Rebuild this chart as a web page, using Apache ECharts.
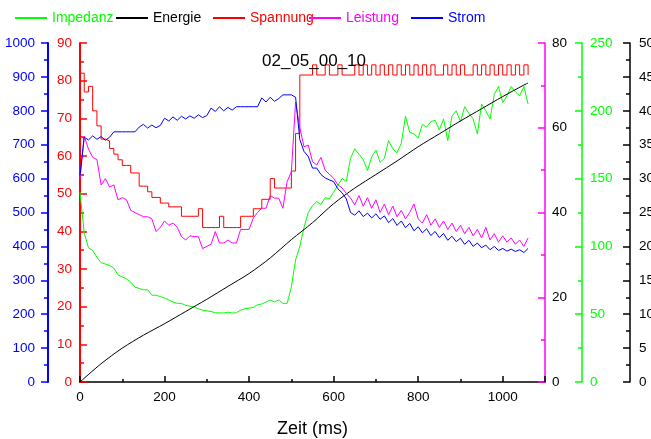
<!DOCTYPE html>
<html>
<head>
<meta charset="utf-8">
<script src="https://cdn.jsdelivr.net/npm/echarts@6/dist/echarts.min.js"></script>
<style>
  html, body { margin: 0; padding: 0; background: #fff; }
  #chart { width: 651px; height: 439px; }
</style>
</head>
<body>
<div id="chart"></div>
<script>
// Zeitachse (ms), gemeinsam fuer die Messreihen
const zeit = [
  0, 10, 20, 30, 40, 50, 60, 70, 80, 90,
  100, 110, 120, 130, 140, 150, 160, 170, 180, 190,
  200, 210, 220, 230, 240, 250, 260, 270, 280, 290,
  300, 310, 320, 330, 340, 350, 360, 370, 380, 390,
  400, 410, 420, 430, 440, 450, 460, 470, 480, 490,
  500, 510, 520, 530, 540, 550, 560, 570, 580, 590,
  600, 610, 620, 630, 640, 650, 660, 670, 680, 690,
  700, 710, 720, 730, 740, 750, 760, 770, 780, 790,
  800, 810, 820, 830, 840, 850, 860, 870, 880, 890,
  900, 910, 920, 930, 940, 950, 960, 970, 980, 990,
  1000, 1010, 1020, 1030, 1040, 1050, 1060
];

const strom = [
  610, 722, 714, 726, 716, 724, 713, 722, 738, 738,
  738, 738, 738, 738, 752, 760, 749, 758, 750, 757,
  778, 770, 782, 772, 784, 776, 785, 778, 788, 780,
  786, 808, 798, 812, 800, 810, 802, 812, 812, 812,
  812, 812, 812, 838, 826, 840, 828, 836, 847, 847,
  847, 840, 715, 680, 665, 631, 631, 612, 602, 596,
  591, 570, 558, 540, 500, 492, 505, 488, 498, 484,
  496, 480, 490, 470, 482, 462, 475, 455, 468, 446,
  458, 440, 452, 432, 444, 426, 438, 418, 430, 414,
  424, 406, 418, 400, 410, 396, 404, 390, 400, 388,
  394, 386, 392, 385, 390, 382, 394
];

const spannung = [
  82, 77, 78.5, 72, 68, 64.5, 64, 62, 60.5, 59,
  57.5, 57.5, 55.5, 55.5, 52, 52, 50.5, 49, 49, 47.5,
  47.5, 46.5, 46.5, 46.5, 44, 44, 44, 44, 46, 41,
  41, 41, 41, 44, 41, 41, 41, 41, 44, 44,
  44, 46, 46, 48.5, 48.5, 54, 51.5, 51.5, 51.5, 51.5,
  56, 66, 81.5, 81.5, 81.5, 84.2, 81.5, 81.5, 84.2, 81.5,
  81.5, 84.2, 81.5, 81.5, 81.5, 84.2, 81.5, 84.2, 81.5, 84.2,
  81.5, 84.2, 81.5, 84.2, 81.5, 84.2, 81.5, 84.2, 81.5, 84.2,
  81.5, 84.2, 81.5, 84.2, 81.5, 81.5, 84.2, 81.5, 84.2, 81.5,
  84.2, 81.5, 81.5, 84.2, 81.5, 84.2, 81.5, 84.2, 81.5, 84.2,
  81.5, 84.2, 81.5, 84.2, 81.5, 84.2, 81.5
];

const leistung = [
  48, 58, 55, 53, 52.5, 46.5, 48, 46, 46.5, 43,
  43.5, 43, 40.5, 40, 39.5, 39, 39, 38.5, 35.5, 36.5,
  38, 37, 37.5, 36.5, 34.3, 33.5, 34.5, 34.3, 34.3, 31.5,
  32, 32.5, 35.5, 32.8, 32.8, 33.5, 32.8, 32.8, 36, 36,
  36, 38.7, 40, 41, 41, 44, 43.4, 43.4, 41, 47.3,
  49.6, 66, 60, 55.5, 55.9, 52, 51.2, 53, 50, 49,
  48.1, 46.5, 45.8, 44.5, 43.4, 41.8, 44, 41.5, 43.5, 41,
  43, 40, 42, 39.5, 41.5, 39, 40.5, 38.5, 40, 42,
  38.5, 37.5, 39.5, 37, 38.5, 36.5, 38, 36, 37.5, 35.5,
  37, 35, 36.5, 34.5, 36, 34, 36.5, 33.5, 35, 33,
  34.5, 33, 34, 32.5, 33.5, 32, 34
];

const impedanz = [
  140, 110, 99, 97, 92, 88, 87, 86, 84, 79,
  77.5, 76, 73.7, 70, 69, 68, 68, 64, 64, 63,
  62, 60.5, 59, 58, 58, 56.5, 56, 55.3, 54, 53,
  52.5, 52, 51, 51, 50.9, 51.5, 50.9, 51, 53, 54,
  54.5, 55, 57, 57.5, 59, 60.5, 59, 60.5, 58, 58,
  70, 90, 100, 114, 125, 130, 133, 131, 136, 135,
  140, 145, 150, 148, 165, 172, 168, 164, 156, 166,
  171, 162, 165, 178, 172, 169, 176, 196, 184, 183,
  180, 190, 188, 192, 193, 186, 194, 178, 196, 200,
  192, 203, 198, 194, 183, 205, 200, 194, 212, 218,
  206, 211, 218, 214, 211, 218, 205
];

const energieZeit = [0, 50, 100, 150, 200, 250, 300, 350, 400, 450, 500, 550,
  600, 650, 700, 750, 800, 850, 900, 950, 1000, 1050, 1060];
const energie = [0, 2.7, 5.0, 6.9, 8.6, 10.4, 12.2, 14.1, 16.0, 18.3, 21.0, 23.5,
  26.3, 28.6, 30.6, 32.6, 34.7, 36.6, 38.5, 40.3, 42.1, 43.8, 44.1];

const titel = '02_05_00_10';

const FONT = "'Liberation Sans', Arial, sans-serif";
const zip = (xs, ys) => xs.map((x, i) => [x, ys[i]]);
const plain = v => String(v);

const chart = echarts.init(document.getElementById('chart'));

function yAchse(opts) {
  return {
    type: 'value',
    position: opts.position,
    offset: opts.offset,
    min: 0,
    max: opts.max,
    interval: opts.interval,
    splitLine: { show: false },
    axisLine: { show: true, onZero: false, lineStyle: { color: opts.color, width: opts.lineWidth || 1.5 } },
    axisTick: { show: true, inside: opts.inside, length: 7, lineStyle: { color: opts.color, width: 1.5 } },
    minorTick: { show: true, splitNumber: 2, length: 4, lineStyle: { color: opts.color, width: 1.5 } },
    axisLabel: { color: opts.labelColor, fontSize: 13.5, fontFamily: FONT, margin: opts.margin, formatter: plain }
  };
}

function legende(name, left, color) {
  return {
    data: [{ name: name, textStyle: { color: color } }],
    left: left,
    top: 6,
    icon: 'rect',
    itemWidth: 32,
    itemHeight: 2,
    itemGap: 0,
    textStyle: { fontSize: 14, fontFamily: FONT }
  };
}

function reihe(name, data, yIndex, color, extra) {
  return Object.assign({
    name: name,
    type: 'line',
    yAxisIndex: yIndex,
    data: data,
    symbol: 'none',
    color: color,
    lineStyle: { width: 1, color: color },
    z: 2
  }, extra || {});
}

const option = {
  animation: false,
  backgroundColor: '#fff',
  title: {
    text: titel,
    left: 257,
    top: 48,
    textStyle: { fontSize: 17, fontWeight: 'normal', color: '#000', fontFamily: FONT }
  },
  legend: [
    legende('Impedanz', 10, '#00ff00'),
    legende('Energie', 111, '#000000'),
    legende('Spannung', 208, '#ff0000'),
    legende('Leistung', 304, '#ff00ff'),
    legende('Strom', 406, '#0000ff')
  ],
  grid: { left: 80, right: 106, top: 43, bottom: 57, outerBoundsMode: 'none' },
  xAxis: {
    type: 'value',
    min: 0,
    max: 1100,
    interval: 200,
    name: 'Zeit (ms)',
    nameLocation: 'middle',
    nameGap: 38,
    nameTextStyle: { fontSize: 18, color: '#000', fontFamily: FONT },
    splitLine: { show: false },
    axisLine: { onZero: false, lineStyle: { color: '#000', width: 1.5 } },
    axisTick: { inside: true, length: 6, lineStyle: { color: '#000', width: 1.5 } },
    minorTick: { show: true, splitNumber: 2, length: 3, lineStyle: { color: '#000', width: 1.5 } },
    axisLabel: { color: '#000', fontSize: 13.5, fontFamily: FONT, margin: 8, showMaxLabel: false, formatter: plain }
  },
  yAxis: [
    yAchse({ position: 'left', offset: 32, max: 1000, interval: 100, color: '#0000ff', labelColor: '#0000ff', inside: false, margin: 13, lineWidth: 2 }),
    yAchse({ position: 'left', offset: 0, max: 90, interval: 10, color: '#ff0000', labelColor: '#ff0000', inside: true, margin: 8, lineWidth: 2 }),
    yAchse({ position: 'right', offset: 0, max: 80, interval: 20, color: '#ff00ff', labelColor: '#000000', inside: true, margin: 7 }),
    yAchse({ position: 'right', offset: 37, max: 250, interval: 50, color: '#00ff00', labelColor: '#00ff00', inside: true, margin: 8 }),
    yAchse({ position: 'right', offset: 85, max: 50, interval: 5, color: '#000000', labelColor: '#000000', inside: true, margin: 9 })
  ],
  series: [
    reihe('Impedanz', zip(zeit, impedanz), 3, '#00ff00'),
    reihe('Energie', zip(energieZeit, energie), 4, '#000000', { smooth: 0.3 }),
    reihe('Spannung', zip(zeit, spannung), 1, '#ff0000', { step: 'end' }),
    reihe('Leistung', zip(zeit, leistung), 2, '#ff00ff'),
    reihe('Strom', zip(zeit, strom), 0, '#0000ff')
  ]
};

chart.setOption(option);
</script>
</body>
</html>
